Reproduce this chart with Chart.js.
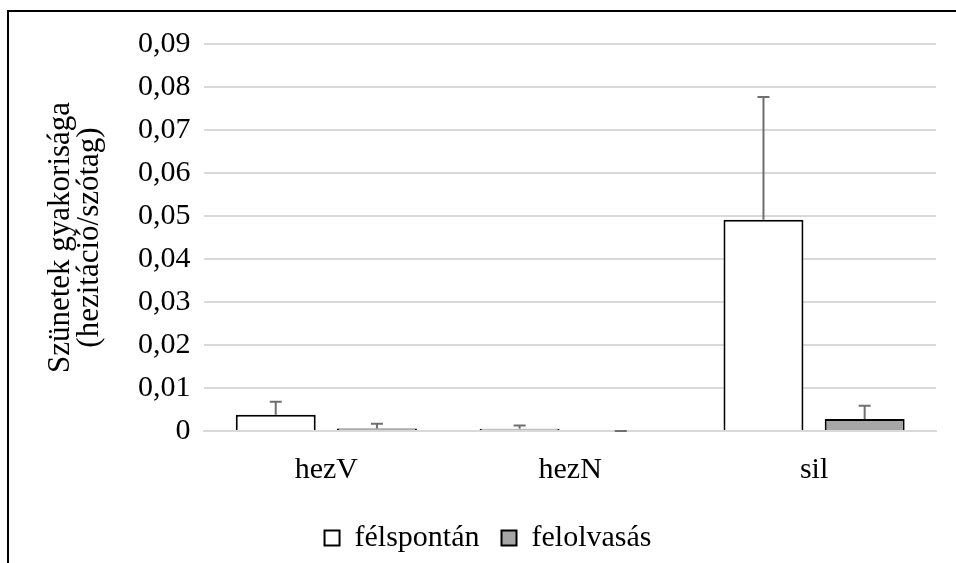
<!DOCTYPE html>
<html>
<head>
<meta charset="utf-8">
<script src="https://cdn.jsdelivr.net/npm/chart.js@4"></script>
<style>
  body { margin: 0; background: #fff; }
  #wrap { position: absolute; left: 0; top: 0; width: 956px; height: 563px; }
  #frame { position: absolute; left: 7px; top: 10px; right: 0; bottom: 0; border-left: 2px solid #000; border-top: 2px solid #000; }
</style>
</head>
<body>
<div id="wrap">
  <div id="frame"></div>
  <canvas id="chart" width="956" height="563"></canvas>
</div>
<script>
const categories = ["hezV", "hezN", "sil"];
const felspontan = [0.0038, 0.0005, 0.0491];
const felspontanErr = [0.0030, 0.0008, 0.0286];
const felolvasas = [0.0006, 0.0000, 0.0028];
const felolvasasErr = [0.0011, 0.0000, 0.0031];
const yTicks = [0, 0.01, 0.02, 0.03, 0.04, 0.05, 0.06, 0.07, 0.08, 0.09];

const serif = "'Liberation Serif', 'Times New Roman', serif";

const errorBars = {
    id: 'errorBars',
    afterDatasetsDraw(chart) {
        const ctx = chart.ctx;
        const y = chart.scales.y;
        chart.data.datasets.forEach((ds, i) => {
            const meta = chart.getDatasetMeta(i);
            meta.data.forEach((bar, j) => {
                const top = y.getPixelForValue(ds.data[j] + ds.errors[j]);
                const base = y.getPixelForValue(ds.data[j]);
                ctx.save();
                ctx.strokeStyle = '#6f6f6f';
                ctx.lineWidth = 2;
                ctx.beginPath();
                ctx.moveTo(bar.x, base);
                ctx.lineTo(bar.x, top);
                ctx.moveTo(bar.x - 6, top);
                ctx.lineTo(bar.x + 6, top);
                ctx.stroke();
                ctx.restore();
            });
        });
    }
};

new Chart(document.getElementById("chart"), {
    type: 'bar',
    data: {
        labels: categories,
        datasets: [{
            label: "félspontán",
            data: felspontan,
            errors: felspontanErr,
            backgroundColor: "#ffffff",
            borderColor: "#000000",
            borderWidth: 2
        }, {
            label: "felolvasás",
            data: felolvasas,
            errors: felolvasasErr,
            backgroundColor: "#a6a6a6",
            borderColor: "#000000",
            borderWidth: 2
        }]
    },
    options: {
        responsive: false,
        animation: false,
        categoryPercentage: 0.83,
        barPercentage: 0.79,
        layout: { padding: { left: 40, right: 20, top: 44, bottom: 0 } },
        plugins: {
            legend: {
                position: 'bottom',
                labels: {
                    font: { family: serif, size: 30 },
                    color: '#000',
                    boxWidth: 15,
                    boxHeight: 15,
                    padding: 22
                }
            },
            tooltip: { enabled: false }
        },
        scales: {
            x: {
                grid: { display: false },
                border: { color: '#d9d9d9', width: 2 },
                ticks: { font: { family: serif, size: 30 }, color: '#000', padding: 13 }
            },
            y: {
                min: 0,
                max: 0.09,
                afterBuildTicks(scale) { scale.ticks = yTicks.map(v => ({ value: v })); },
                grid: { color: '#d9d9d9', lineWidth: 2, drawTicks: false },
                border: { display: false },
                ticks: {
                    font: { family: serif, size: 30 },
                    color: '#000',
                    padding: 14,
                    callback: v => v === 0 ? '0' : v.toFixed(2).replace('.', ',')
                },
                title: {
                    display: true,
                    text: ["Szünetek gyakorisága", "(hezitáció/szótag)"],
                    font: { family: serif, size: 31, lineHeight: 0.95 },
                    color: '#000',
                    padding: { top: 6, bottom: 19 }
                }
            }
        }
    },
    plugins: [errorBars]
});
</script>
</body>
</html>
